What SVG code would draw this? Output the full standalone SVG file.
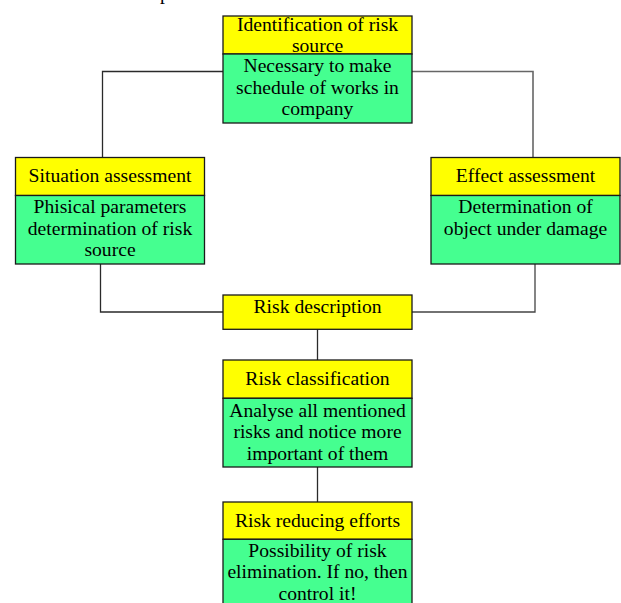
<svg xmlns="http://www.w3.org/2000/svg" width="621" height="603" viewBox="0 0 621 603">
<style>
  .y { fill: #FFFF00; stroke: #1a1a1a; stroke-width: 1.3; }
  .g { fill: #45FF90; stroke: #1a1a1a; stroke-width: 1.3; }
  .t { font-family: "Liberation Serif", "Times New Roman", serif; font-size: 18px; fill: #000; text-anchor: middle; }
  .c { fill: none; stroke: #2a2a2a; stroke-width: 1.3; }
</style>
<rect width="621" height="603" fill="#fff"/>
<text class="t" transform="translate(165 0) scale(1.09 1)" x="0" y="0">p</text>
<g id="connectors">
  <path class="c" d="M223,71.5 H102.5 V157.5"/>
  <path class="c" d="M412,71.5 H533 V157.5" style="stroke:#666;stroke-width:1.6"/>
  <path class="c" d="M100.5,264 V312 H223"/>
  <path class="c" d="M535,264 V312 H412" style="stroke:#444"/>
  <path class="c" d="M317.5,329.3 V360"/>
  <path class="c" d="M317.5,467 V502"/>
</g>
<g id="identification">
  <rect class="y" x="223" y="16" width="189" height="38"/>
  <rect class="g" x="223" y="54" width="189" height="69"/>
  <text class="t" transform="translate(317.5 0) scale(1.09 1)"><tspan x="0" y="31">Identification of risk</tspan><tspan x="0" y="52.5">source</tspan></text>
  <text class="t" transform="translate(317.5 0) scale(1.09 1)"><tspan x="0" y="72.5">Necessary to make</tspan><tspan x="0" y="94">schedule of works in</tspan><tspan x="0" y="115.5">company</tspan></text>
</g>
<g id="situation">
  <rect class="y" x="15.5" y="157.5" width="189" height="38"/>
  <rect class="g" x="15.5" y="195.5" width="189" height="68.5"/>
  <text class="t" transform="translate(110 0) scale(1.09 1)" x="0" y="182.5">Situation assessment</text>
  <text class="t" transform="translate(110 0) scale(1.09 1)"><tspan x="0" y="213.5">Phisical parameters</tspan><tspan x="0" y="235">determination of risk</tspan><tspan x="0" y="256.5">source</tspan></text>
</g>
<g id="effect">
  <rect class="y" x="431" y="157.5" width="189" height="38"/>
  <rect class="g" x="431" y="195.5" width="189" height="68.5"/>
  <text class="t" transform="translate(525.5 0) scale(1.09 1)" x="0" y="182.5">Effect assessment</text>
  <text class="t" transform="translate(525.5 0) scale(1.09 1)"><tspan x="0" y="213.5">Determination of</tspan><tspan x="0" y="235">object under damage</tspan></text>
</g>
<g id="description">
  <rect class="y" x="223" y="295" width="189" height="34.3"/>
  <text class="t" transform="translate(317.5 0) scale(1.09 1)" x="0" y="312.7">Risk description</text>
</g>
<g id="classification">
  <rect class="y" x="223" y="360" width="189" height="38.3"/>
  <rect class="g" x="223" y="398.3" width="189" height="68.7"/>
  <text class="t" transform="translate(317.5 0) scale(1.09 1)" x="0" y="385">Risk classification</text>
  <text class="t" transform="translate(317.5 0) scale(1.09 1)"><tspan x="0" y="417">Analyse all mentioned</tspan><tspan x="0" y="438.5">risks and notice more</tspan><tspan x="0" y="460">important of them</tspan></text>
</g>
<g id="reducing">
  <rect class="y" x="223" y="502" width="189" height="37.3"/>
  <rect class="g" x="223" y="539.3" width="189" height="70"/>
  <text class="t" transform="translate(317.5 0) scale(1.09 1)" x="0" y="526.7">Risk reducing efforts</text>
  <text class="t" transform="translate(317.5 0) scale(1.09 1)"><tspan x="0" y="556.7">Possibility of risk</tspan><tspan x="0" y="578.2">elimination. If no, then</tspan><tspan x="0" y="599.7">control it!</tspan></text>
</g>
</svg>
